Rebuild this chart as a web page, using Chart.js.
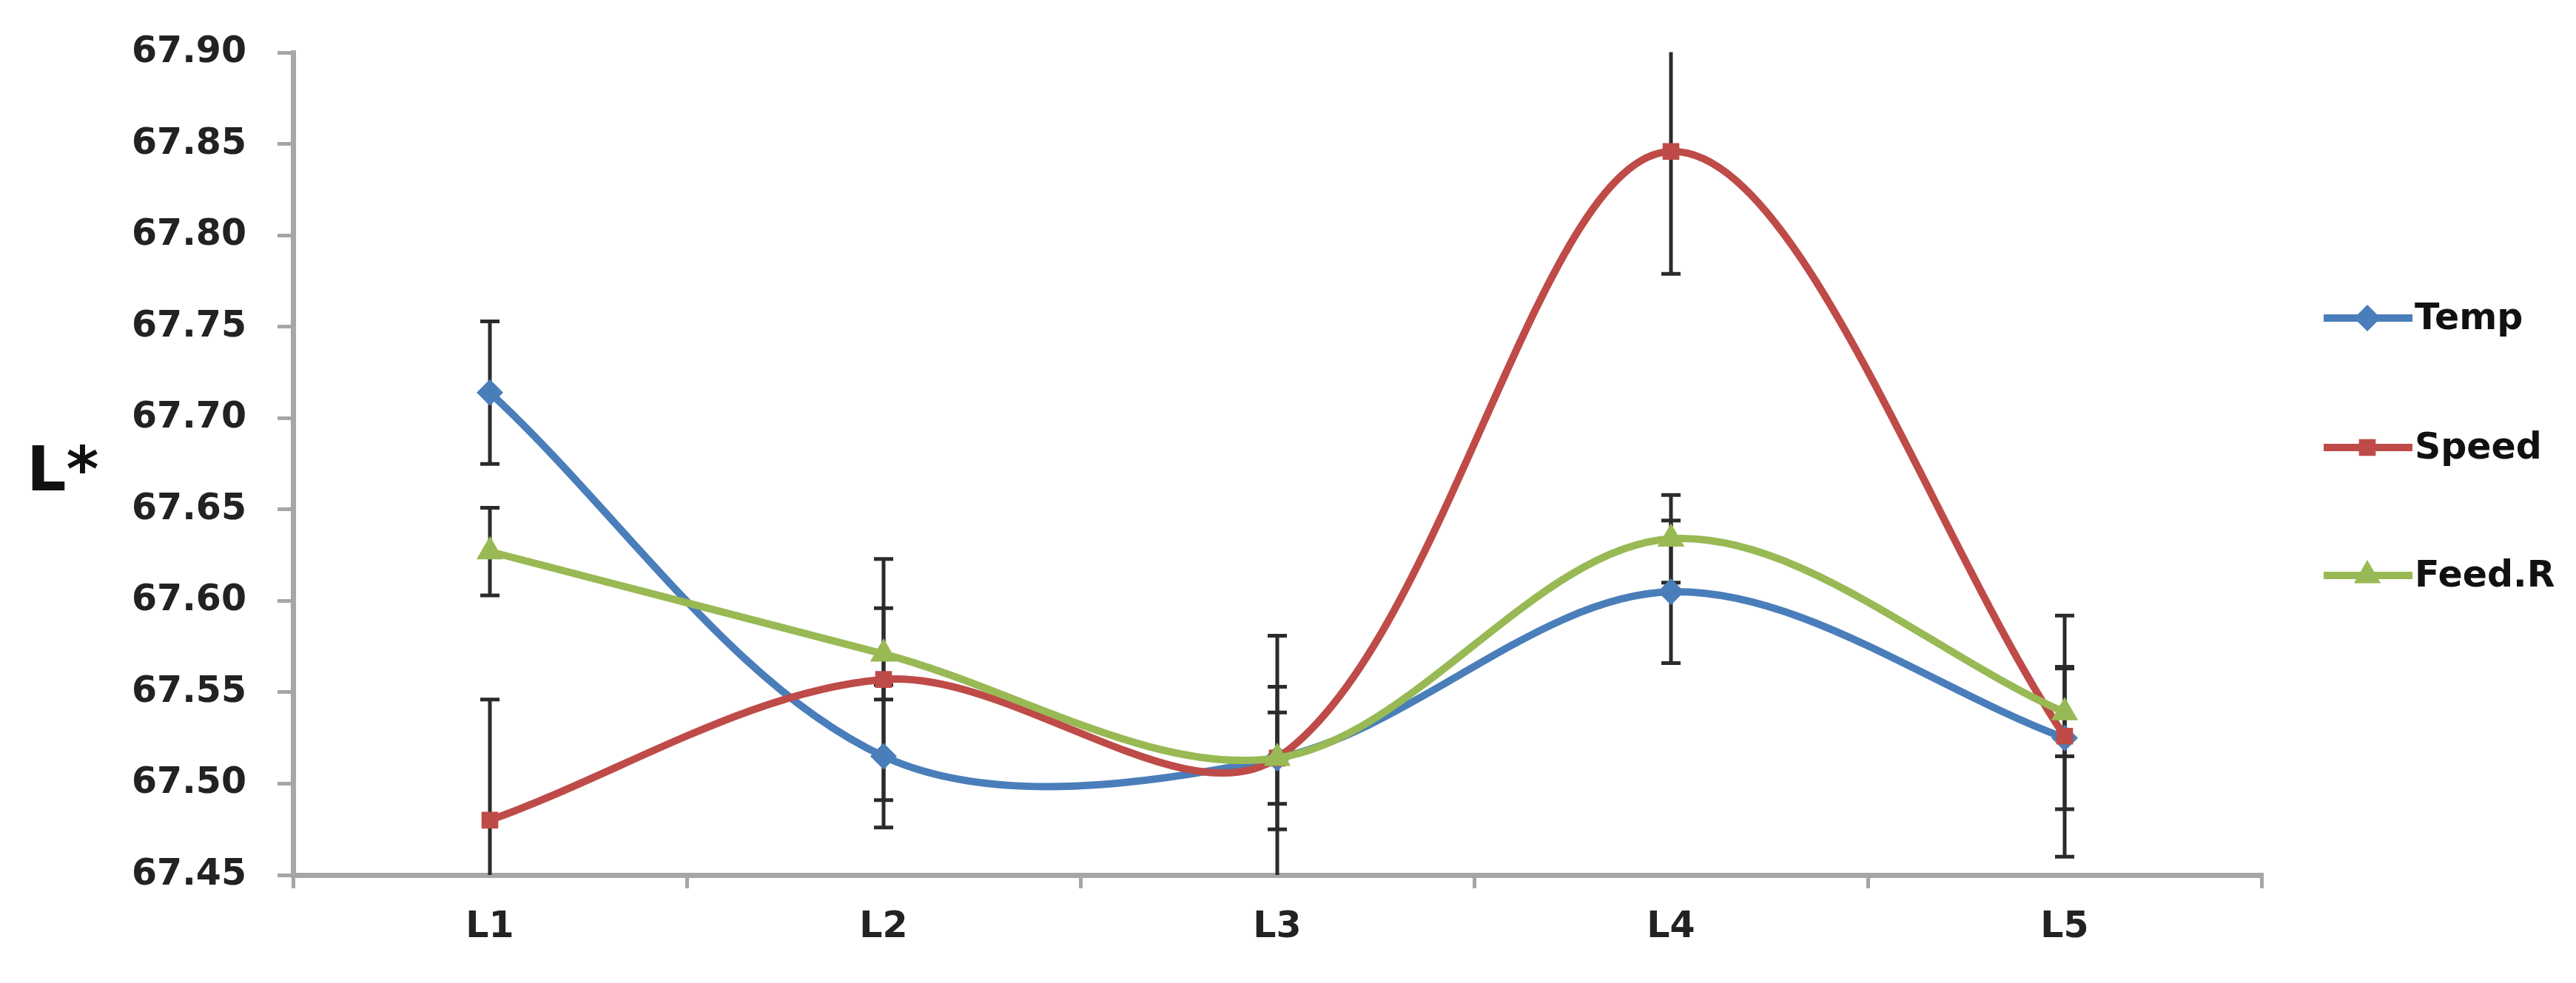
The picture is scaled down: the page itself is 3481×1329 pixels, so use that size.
<!DOCTYPE html>
<html>
<head>
<meta charset="utf-8">
<script src="https://cdn.jsdelivr.net/npm/chart.js@4.4.1/dist/chart.umd.min.js"></script>
<style>
  html, body { margin: 0; padding: 0; background: #fff; }
  #wrap { width: 3481px; height: 1329px; position: relative; }
</style>
</head>
<body>
<div id="wrap"><canvas id="grafico"></canvas></div>
<script>
// categorie e valori
const categories = ['L1', 'L2', 'L3', 'L4', 'L5'];
const tempValues = [67.714, 67.515, 67.514, 67.605, 67.525];
const speedValues = [67.480, 67.557, 67.514, 67.846, 67.526];
const feedValues = [67.627, 67.571, 67.514, 67.634, 67.539];
// barre d'errore (+/-)
const tempErrors = [0.039, 0.039, 0.039, 0.039, 0.039];
const speedErrors = [0.066, 0.066, 0.067, 0.067, 0.066];
const feedErrors = [0.024, 0.025, 0.025, 0.024, 0.024];
const yTicks = [67.45, 67.50, 67.55, 67.60, 67.65, 67.70, 67.75, 67.80, 67.85, 67.90];

const fontFamily = "'DejaVu Sans', Verdana, sans-serif";
Chart.defaults.font.family = fontFamily;
Chart.defaults.font.weight = 'bold';
Chart.defaults.color = '#222';

const axisGrey = '#a6a6a6';
const labelFont = { size: 49, weight: 'bold' };

// disegna le barre d'errore sotto le linee
const errorBars = {
    id: 'errorBars',
    beforeDatasetsDraw(chart) {
        const { ctx, chartArea, scales } = chart;
        ctx.save();
        ctx.beginPath();
        ctx.rect(chartArea.left, chartArea.top - 1, chartArea.right - chartArea.left, chartArea.bottom - chartArea.top + 1);
        ctx.clip();
        ctx.strokeStyle = '#2b2b2b';
        ctx.lineWidth = 5;
        chart.data.datasets.forEach(ds => {
            ds.values.forEach((v, i) => {
                const x = scales.x.getPixelForValue(i);
                const yTop = scales.y.getPixelForValue(v + ds.errors[i]);
                const yBot = scales.y.getPixelForValue(v - ds.errors[i]);
                ctx.beginPath();
                ctx.moveTo(x, yTop); ctx.lineTo(x, yBot);
                ctx.moveTo(x - 13, yTop); ctx.lineTo(x + 13, yTop);
                ctx.moveTo(x - 13, yBot); ctx.lineTo(x + 13, yBot);
                ctx.stroke();
            });
        });
        ctx.restore();
    }
};

// titolo asse "L*" orizzontale e legenda stile Excel
const sideTexts = {
    id: 'sideTexts',
    afterDraw(chart) {
        const { ctx, chartArea } = chart;
        ctx.save();
        ctx.fillStyle = '#111';
        ctx.font = 'bold 84px ' + fontFamily;
        ctx.textBaseline = 'alphabetic';
        ctx.textAlign = 'left';
        ctx.fillText('L*', 36, 663);

        const x0 = chartArea.right + 84;
        const legendY = [430, 605, 778];
        ctx.textBaseline = 'middle';
        chart.data.datasets.forEach((ds, k) => {
            const y = legendY[k];
            ctx.strokeStyle = ds.borderColor;
            ctx.lineWidth = 10;
            ctx.beginPath();
            ctx.moveTo(x0, y); ctx.lineTo(x0 + 120, y);
            ctx.stroke();
            ctx.fillStyle = ds.pointBackgroundColor;
            Chart.helpers.drawPoint(ctx, {
                pointStyle: ds.pointStyle, radius: ds.pointRadius, borderWidth: 0, rotation: 0
            }, x0 + 59, y);
            ctx.fillStyle = '#111';
            ctx.font = 'bold 49px ' + fontFamily;
            ctx.fillText(ds.label, x0 + 123, y + 2);
        });
        ctx.restore();
    }
};

function serie(label, values, errors, color, style, radius, order) {
    return {
        label: label,
        data: values,
        values: values,
        errors: errors,
        borderColor: color,
        backgroundColor: color,
        pointBackgroundColor: color,
        pointBorderColor: color,
        pointBorderWidth: 0,
        pointStyle: style,
        pointRadius: radius,
        borderWidth: 10,
        tension: 0.33,
        fill: false,
        order: order
    };
}

const ctx = document.getElementById('grafico').getContext('2d');

new Chart(ctx, {
    type: 'line',
    data: {
        labels: categories,
        datasets: [
            serie('Temp', tempValues, tempErrors, '#4a7ebb', 'rectRot', 18, 2),
            serie('Speed', speedValues, speedErrors, '#be4b48', 'rect', 16, 1),
            serie('Feed.R', feedValues, feedErrors, '#98b954', 'triangle', 21, 0)
        ]
    },
    options: {
        responsive: true,
        maintainAspectRatio: false,
        animation: false,
        devicePixelRatio: 1,
        layout: { padding: { top: 65, right: 425, bottom: 0, left: 0 } },
        plugins: {
            legend: { display: false },
            tooltip: { enabled: false }
        },
        scales: {
            x: {
                type: 'category',
                offset: true,
                grid: {
                    offset: true,
                    drawOnChartArea: false,
                    drawTicks: true,
                    tickLength: 18,
                    color: axisGrey,
                    lineWidth: 5
                },
                border: { display: true, color: axisGrey, width: 7 },
                ticks: { font: labelFont, color: '#222', padding: 24, maxRotation: 0 },
                afterFit(scale) { scale.height = 146; }
            },
            y: {
                min: 67.45,
                max: 67.90,
                grid: {
                    drawOnChartArea: false,
                    drawTicks: true,
                    tickLength: 21,
                    color: axisGrey,
                    lineWidth: 5
                },
                border: { display: true, color: axisGrey, width: 7 },
                ticks: {
                    font: labelFont,
                    color: '#222',
                    padding: 42,
                    callback: v => Number(v).toFixed(2)
                },
                afterBuildTicks(scale) { scale.ticks = yTicks.map(v => ({ value: v })); },
                afterFit(scale) { scale.width = 396; }
            }
        }
    },
    plugins: [errorBars, sideTexts]
});
</script>
</body>
</html>
